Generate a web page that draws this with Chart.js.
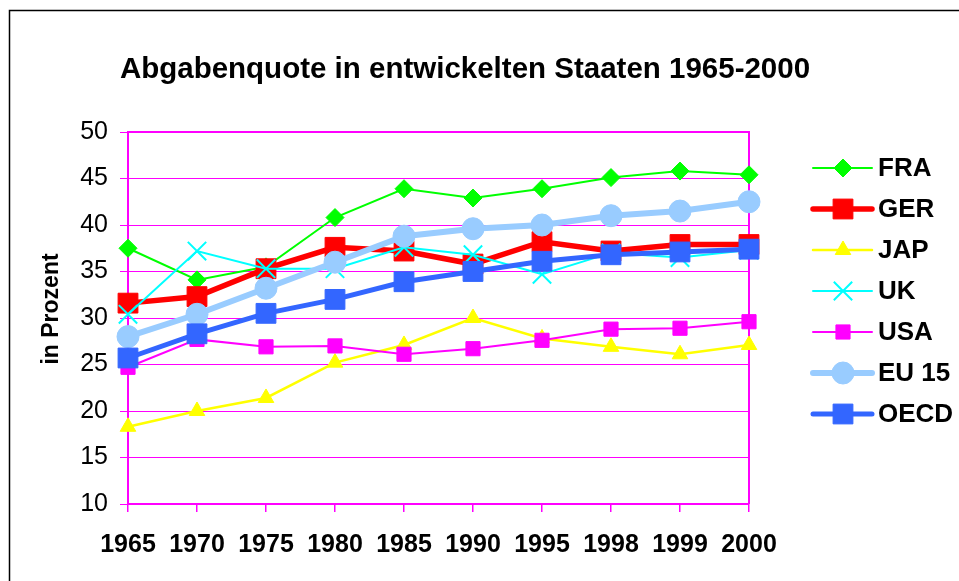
<!DOCTYPE html>
<html>
<head>
<meta charset="utf-8">
<script src="https://cdn.jsdelivr.net/npm/chart.js@4.4.1/dist/chart.umd.min.js"></script>
<style>
  body { margin: 0; background: #fff; }
  #wrap { position: relative; width: 959px; height: 581px; }
</style>
</head>
<body>
<div id="wrap"><canvas id="taxChart" width="959" height="581"></canvas></div>
<script>
// Jahre und Abgabenquoten (in Prozent des BIP)
const years = ['1965', '1970', '1975', '1980', '1985', '1990', '1995', '1998', '1999', '2000'];
const fra  = [37.5, 34.1, 35.5, 40.8, 43.9, 42.9, 43.9, 45.1, 45.8, 45.4];
const ger  = [31.6, 32.3, 35.3, 37.6, 37.2, 35.8, 38.2, 37.2, 37.9, 37.9];
const jap  = [18.3, 20.0, 21.4, 25.2, 27.1, 30.0, 27.8, 26.9, 26.1, 27.1];
const uk   = [30.4, 37.2, 35.3, 35.3, 37.6, 36.8, 34.7, 37.0, 36.5, 37.3];
const usa  = [24.7, 27.7, 26.9, 27.0, 26.1, 26.7, 27.6, 28.8, 28.9, 29.6];
const eu15 = [28.0, 30.4, 33.2, 36.0, 38.8, 39.6, 40.0, 41.0, 41.5, 42.5];
const oecd = [25.7, 28.3, 30.5, 32.0, 33.9, 35.0, 36.1, 36.8, 37.1, 37.4];
const yTicks = [10, 15, 20, 25, 30, 35, 40, 45, 50];

const MAGENTA = '#ff00ff';
const FONT = '"Liberation Sans", Arial, sans-serif';

function series(label, data, color, width, style, radius, order) {
  return {
    label: label,
    data: data,
    borderColor: color,
    backgroundColor: color,
    borderWidth: width,
    pointStyle: style,
    pointRadius: radius,
    pointHoverRadius: radius,
    pointBackgroundColor: color,
    pointBorderColor: color,
    pointBorderWidth: style === 'crossRot' ? 2 : 1,
    tension: 0,
    clip: false,
    order: order
  };
}

// Rahmen, Titel, Achsentitel und Legende selbst zeichnen
const decor = {
  id: 'decor',
  beforeDraw(chart) {
    const ctx = chart.ctx;
    ctx.save();
    ctx.fillStyle = '#fff';
    ctx.fillRect(0, 0, chart.width, chart.height);
    ctx.strokeStyle = '#000';
    ctx.lineWidth = 1.5;
    ctx.beginPath();
    ctx.moveTo(9.5, chart.height + 5);
    ctx.lineTo(9.5, 10.5);
    ctx.lineTo(chart.width + 5, 10.5);
    ctx.stroke();

    ctx.fillStyle = '#000';
    ctx.textAlign = 'center';
    ctx.textBaseline = 'middle';
    ctx.font = 'bold 29.5px ' + FONT;
    ctx.fillText('Abgabenquote in entwickelten Staaten 1965-2000', 465, 70);

    ctx.translate(52, 309);
    ctx.rotate(-Math.PI / 2);
    ctx.font = 'bold 23px ' + FONT;
    ctx.fillText('in Prozent', 0, 0);
    ctx.restore();
  },
  beforeDatasetsDraw(chart) {
    const a = chart.chartArea;
    const ctx = chart.ctx;
    ctx.save();
    ctx.strokeStyle = MAGENTA;
    ctx.lineWidth = 2;
    ctx.beginPath();
    ctx.moveTo(a.left, a.top);
    ctx.lineTo(a.right, a.top);
    ctx.lineTo(a.right, a.bottom);
    ctx.stroke();
    ctx.restore();
  },
  afterDraw(chart) {
    const ctx = chart.ctx;
    ctx.save();
    chart.data.datasets.forEach((ds, i) => {
      const y = 168 + i * 41;
      ctx.strokeStyle = ds.borderColor;
      ctx.lineWidth = ds.borderWidth;
      ctx.lineCap = 'round';
      ctx.beginPath();
      ctx.moveTo(813, y);
      ctx.lineTo(872, y);
      ctx.stroke();
      ctx.lineCap = 'butt';
      ctx.fillStyle = ds.pointBackgroundColor;
      ctx.strokeStyle = ds.pointBorderColor;
      ctx.lineWidth = ds.pointBorderWidth;
      Chart.helpers.drawPoint(ctx, {
        pointStyle: ds.pointStyle,
        radius: ds.pointRadius,
        rotation: 0,
        borderWidth: ds.pointBorderWidth
      }, 843, y);
      ctx.fillStyle = '#000';
      ctx.font = 'bold 26px ' + FONT;
      ctx.textAlign = 'left';
      ctx.textBaseline = 'middle';
      ctx.fillText(ds.label, 878, y + 1);
    });
    ctx.restore();
  }
};

const taxChart = new Chart(document.getElementById('taxChart'), {
  type: 'line',
  data: {
    labels: years,
    datasets: [
      series('FRA', fra, '#00ff00', 2, 'rectRot', 9, 7),
      series('GER', ger, '#ff0000', 5.5, 'rect', 14, 6),
      series('JAP', jap, '#ffff00', 2.5, 'triangle', 9, 5),
      series('UK', uk, '#00ffff', 2, 'crossRot', 13, 4),
      series('USA', usa, '#ff00ff', 2, 'rect', 10, 3),
      series('EU 15', eu15, '#99ccff', 6, 'circle', 11, 2),
      series('OECD', oecd, '#3366ff', 5, 'rect', 14, 1)
    ]
  },
  options: {
    responsive: false,
    animation: false,
    layout: { padding: { left: 30, top: 132, right: 210, bottom: 0 } },
    plugins: {
      legend: { display: false },
      title: { display: false },
      tooltip: { enabled: false }
    },
    scales: {
      x: {
        type: 'category',
        offset: false,
        afterFit(scale) { scale.height = 77; },
        grid: {
          drawOnChartArea: false,
          drawTicks: true,
          tickLength: 8,
          color: MAGENTA,
          lineWidth: 1.5
        },
        border: { display: true, color: MAGENTA, width: 2 },
        ticks: {
          color: '#000',
          font: { family: FONT, size: 25, weight: 'bold' },
          padding: 18,
          maxRotation: 0,
          autoSkip: false
        }
      },
      y: {
        min: 10,
        max: 50,
        afterFit(scale) { scale.width = 98; },
        afterBuildTicks(scale) { scale.ticks = yTicks.map(v => ({ value: v })); },
        grid: {
          color: MAGENTA,
          lineWidth: 1,
          drawTicks: true,
          tickLength: 8
        },
        border: { display: true, color: MAGENTA, width: 2 },
        ticks: {
          color: '#000',
          font: { family: FONT, size: 25 },
          padding: 12
        }
      }
    }
  },
  plugins: [decor]
});
</script>
</body>
</html>
